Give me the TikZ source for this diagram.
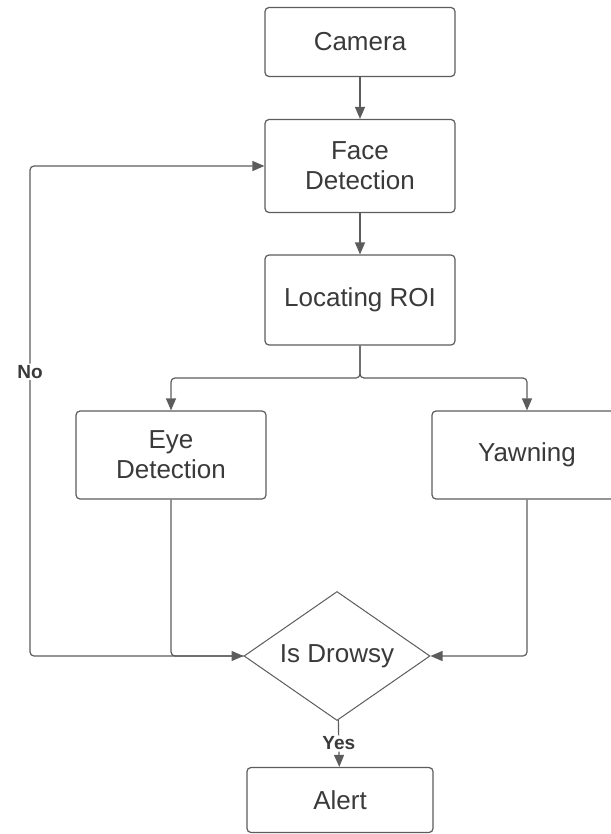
\documentclass[tikz,border=0pt]{standalone}
\usepackage{fontspec}
\setmainfont{Liberation Sans}
\usepackage{xcolor}
\usepackage{tikz}
\usetikzlibrary{calc}
\usetikzlibrary{arrows.meta}
\usetikzlibrary{shapes.geometric}
\definecolor{linegray}{HTML}{5C5C5C}
\definecolor{textgray}{HTML}{3A3A3A}
\tikzstyle{procnode}=[text=textgray, draw=linegray, line width=1.2pt, shape=rectangle, rounded corners=4pt, fill=white, minimum width=190pt, minimum height=88pt, inner sep=2pt, align=center, font=\fontsize{26}{30}\selectfont]
\tikzstyle{decnode}=[text=textgray, draw=linegray, line width=1pt, shape=diamond, aspect=1.44, fill=white, minimum width=186pt, minimum height=129pt, inner sep=0pt, align=center, font=\fontsize{26}{30}\selectfont]
\tikzstyle{labelnode}=[text=textgray, fill=white, inner sep=1.5pt, font=\fontsize{19}{22}\selectfont\bfseries]
\tikzstyle{flowarrow}=[-{Stealth[length=12pt, width=10pt, inset=0pt]}, line width=1.2pt, draw=linegray, rounded corners=4pt]

\begin{document}
\begin{tikzpicture}[x=1pt, y=-1pt]
\useasboundingbox (0,0) rectangle (610,834);
\node [procnode, minimum height=69pt] (camera) at (360,42) {Camera};
\node [procnode, minimum height=93pt] (face) at (360,166) {Face\\Detection};
\node [procnode, minimum height=90pt] (roi) at (360,300) {Locating ROI};
\node [procnode] (eye) at (171,455) {Eye\\Detection};
\node [procnode] (yawn) at (527,455) {Yawning};
\node [decnode] (drowsy) at (337,656) {Is Drowsy};
\node [procnode, minimum width=186pt, minimum height=65pt] (alert) at (340,800) {Alert};
\coordinate (split) at (360,378);
\coordinate (nobottom) at (30,656);

\draw[flowarrow] (camera) -- (face);
\draw[flowarrow] (face) -- (roi);
\draw[flowarrow] (roi) -- (split) -| (eye);
\draw[flowarrow] (roi) -- (split) -| (yawn);
\draw[flowarrow] (drowsy.west) -- (nobottom) |- node[labelnode, pos=0.29] {No} (face);
\draw[flowarrow] (eye) |- (drowsy);
\draw[flowarrow] (yawn) |- (drowsy);
\draw[flowarrow] (drowsy) -- node[labelnode] {Yes} (alert);
\end{tikzpicture}
\end{document}
